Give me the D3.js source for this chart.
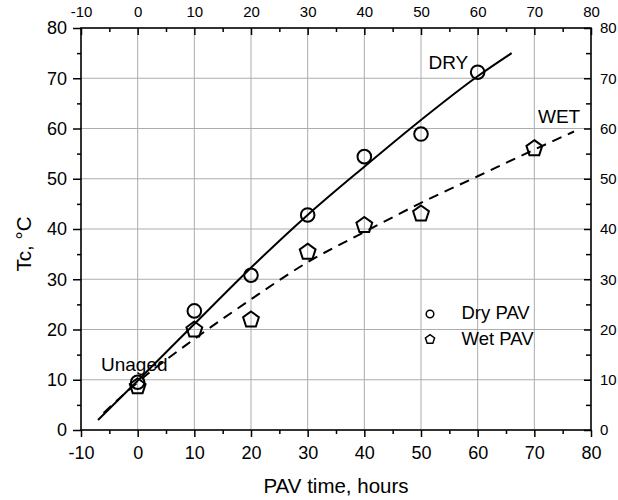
<!DOCTYPE html>
<html>
<head>
<meta charset="utf-8">
<script src="https://cdn.jsdelivr.net/npm/d3@7"></script>
<style>
  html, body { margin: 0; padding: 0; background: #fff; }
  svg { display: block; font-family: "Liberation Sans", Arial, sans-serif; }
</style>
</head>
<body>
<svg id="chart" width="618" height="500"></svg>
<script>
// Measured points: PAV ageing time (hours) vs critical temperature Tc (°C)
const dryHours = [0, 10, 20, 30, 40, 50, 60];
const dryTc    = [9.5, 23.7, 30.8, 42.8, 54.4, 58.9, 71.2];
const wetHours = [0, 10, 20, 30, 40, 50, 70];
const wetTc    = [8.8, 20.1, 22.1, 35.6, 40.9, 43.2, 56.2];

// Trend curves, sampled along each fitted line
const dryTrendHours = [-7, 0, 10, 20, 30, 40, 50, 60, 66];
const dryTrendTc    = [2.0, 9.8, 21.1, 32.3, 42.8, 52.4, 61.7, 70.4, 75.0];
const wetTrendHours = [-6, 0, 10, 20, 30, 40, 50, 60, 70, 77];
const wetTrendTc    = [3.4, 9.5, 18.1, 26.0, 33.4, 39.4, 45.2, 50.5, 55.8, 59.4];

const xTicks = [-10, 0, 10, 20, 30, 40, 50, 60, 70, 80];
const yTicks = [0, 10, 20, 30, 40, 50, 60, 70, 80];
const xMinor = [-5, 5, 15, 25, 35, 45, 55, 65, 75];
const yMinor = [5, 15, 25, 35, 45, 55, 65, 75];

const svg = d3.select("#chart");
const L = 81, R = 591, T = 28, B = 430;

const x = d3.scaleLinear().domain([-10, 80]).range([L, R]);
const y = d3.scaleLinear().domain([0, 80]).range([B, T]);
const plain = d => String(d);   // hyphen-minus, as in the printed labels

// grid
const grid = svg.append("g").attr("stroke", "#adadad").attr("stroke-width", 1);
grid.selectAll(".gx").data(xTicks.slice(1, -1)).join("line")
  .attr("x1", d => x(d)).attr("x2", d => x(d)).attr("y1", T).attr("y2", B);
grid.selectAll(".gy").data(yTicks.slice(1, -1)).join("line")
  .attr("y1", d => y(d)).attr("y2", d => y(d)).attr("x1", L).attr("x2", R);

// axes
function styleAxis(g, size) {
  g.select(".domain").remove();
  g.selectAll(".tick line").attr("stroke", "#000").attr("stroke-width", 1.5);
  g.selectAll(".tick text").attr("fill", "#000").attr("font-size", size)
    .attr("font-family", "Liberation Sans, Arial, sans-serif");
}

const axisBottomG = svg.append("g").attr("transform", `translate(0,${B})`)
  .call(d3.axisBottom(x).tickValues(xTicks).tickSize(7).tickPadding(9).tickFormat(plain));
styleAxis(axisBottomG, 18);
svg.append("g").attr("transform", `translate(0,${B})`)
  .call(d3.axisBottom(x).tickValues(xMinor).tickSize(4).tickFormat(""))
  .call(g => styleAxis(g, 0));

const axisTopG = svg.append("g").attr("transform", `translate(0,${T})`)
  .call(d3.axisTop(x).tickValues(xTicks).tickSizeInner(-7).tickSizeOuter(0).tickPadding(11).tickFormat(plain));
styleAxis(axisTopG, 15);
svg.append("g").attr("transform", `translate(0,${T})`)
  .call(d3.axisTop(x).tickValues(xMinor).tickSizeInner(-4).tickSizeOuter(0).tickFormat(""))
  .call(g => styleAxis(g, 0));

const axisLeftG = svg.append("g").attr("transform", `translate(${L},0)`)
  .call(d3.axisLeft(y).tickValues(yTicks).tickSize(8).tickPadding(6).tickFormat(plain));
styleAxis(axisLeftG, 18);
svg.append("g").attr("transform", `translate(${L},0)`)
  .call(d3.axisLeft(y).tickValues(yMinor).tickSize(4).tickFormat(""))
  .call(g => styleAxis(g, 0));

const axisRightG = svg.append("g").attr("transform", `translate(${R},0)`)
  .call(d3.axisRight(y).tickValues(yTicks).tickSizeInner(-7).tickSizeOuter(0).tickPadding(9).tickFormat(plain));
styleAxis(axisRightG, 15);
svg.append("g").attr("transform", `translate(${R},0)`)
  .call(d3.axisRight(y).tickValues(yMinor).tickSizeInner(-5).tickSizeOuter(0).tickFormat(""))
  .call(g => styleAxis(g, 0));

// frame
svg.append("rect").attr("x", L).attr("y", T).attr("width", R - L).attr("height", B - T)
  .attr("fill", "none").attr("stroke", "#000").attr("stroke-width", 1.6);

// trend curves
const trendLine = d3.line().x(d => x(d[0])).y(d => y(d[1])).curve(d3.curveMonotoneX);
svg.append("path").datum(d3.zip(dryTrendHours, dryTrendTc)).attr("d", trendLine)
  .attr("fill", "none").attr("stroke", "#000").attr("stroke-width", 2);
svg.append("path").datum(d3.zip(wetTrendHours, wetTrendTc)).attr("d", trendLine)
  .attr("fill", "none").attr("stroke", "#000").attr("stroke-width", 2)
  .attr("stroke-dasharray", "10,7");

// markers
function pentagon(r) {
  const pts = d3.range(5).map(i => {
    const a = -Math.PI / 2 + i * 2 * Math.PI / 5;
    return [r * Math.cos(a), r * Math.sin(a) + r * 0.1];
  });
  return "M" + pts.map(p => p.join(",")).join("L") + "Z";
}

svg.append("g").selectAll("circle").data(d3.zip(dryHours, dryTc)).join("circle")
  .attr("cx", d => x(d[0])).attr("cy", d => y(d[1])).attr("r", 6.8)
  .attr("fill", "none").attr("stroke", "#000").attr("stroke-width", 2);

svg.append("g").selectAll("path").data(d3.zip(wetHours, wetTc)).join("path")
  .attr("transform", d => `translate(${x(d[0])},${y(d[1])})`)
  .attr("d", pentagon(8.3))
  .attr("fill", "none").attr("stroke", "#000").attr("stroke-width", 2)
  .attr("stroke-linejoin", "miter");

// annotations
const ann = svg.append("g").attr("font-size", 19).attr("fill", "#000");
ann.append("text").attr("x", 428.5).attr("y", 69).text("DRY");
ann.append("text").attr("x", 538).attr("y", 123).text("WET");
ann.append("text").attr("x", 101).attr("y", 370.5).text("Unaged");

// legend
const leg = svg.append("g");
leg.append("circle").attr("cx", 430).attr("cy", 314).attr("r", 3.8)
  .attr("fill", "none").attr("stroke", "#000").attr("stroke-width", 1.5);
leg.append("path").attr("transform", "translate(430,339)").attr("d", pentagon(4.8))
  .attr("fill", "none").attr("stroke", "#000").attr("stroke-width", 1.5);
leg.append("text").attr("x", 461.5).attr("y", 318.5).attr("font-size", 18.5).text("Dry PAV");
leg.append("text").attr("x", 461.5).attr("y", 345).attr("font-size", 18.5).text("Wet PAV");

// axis titles
svg.append("text").attr("x", (L + R) / 2).attr("y", 493).attr("text-anchor", "middle")
  .attr("font-size", 20.5).text("PAV time, hours");
svg.append("text").attr("transform", "translate(31,244) rotate(-90)").attr("text-anchor", "middle")
  .attr("font-size", 20.5).text("Tc, °C");
</script>
</body>
</html>
